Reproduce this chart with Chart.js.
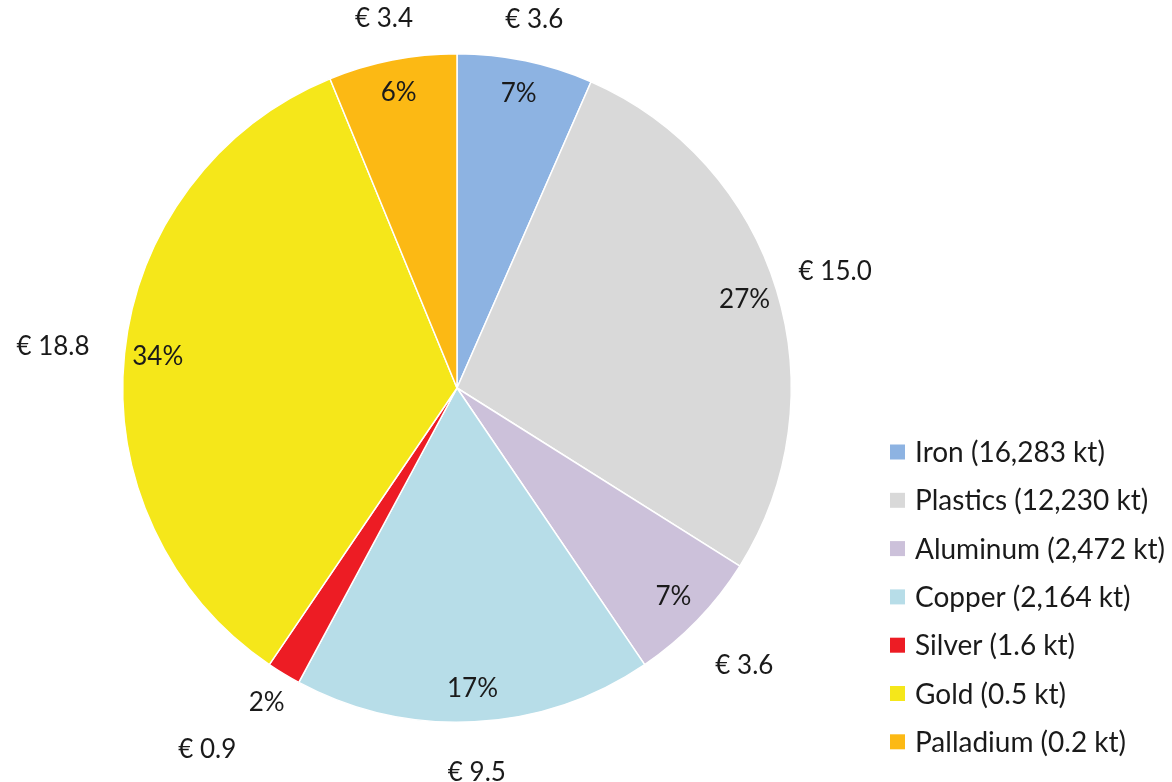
<!DOCTYPE html>
<html>
<head>
<meta charset="utf-8">
<script src="https://cdn.jsdelivr.net/npm/chart.js@4.4.1/dist/chart.umd.min.js"></script>
<style>
  html, body { margin: 0; padding: 0; background: #fff; }
  #wrap { width: 1172px; height: 782px; }
</style>
</head>
<body>
<div id="wrap"><canvas id="pieChart" width="1172" height="782"></canvas></div>
<script>
// materials and their value (billion €)
const materials = ['Iron (16,283 kt)', 'Plastics (12,230 kt)', 'Aluminum (2,472 kt)', 'Copper (2,164 kt)', 'Silver (1.6 kt)', 'Gold (0.5 kt)', 'Palladium (0.2 kt)'];
const values = [3.6, 15.0, 3.6, 9.5, 0.9, 18.8, 3.4];
const colors = ['#8db3e2', '#d9d9d9', '#ccc1da', '#b7dde8', '#ed1c24', '#f5e71a', '#fcb914'];

const FONT = '26px Lato, "Open Sans", sans-serif';
const LEGEND_FONT = '28px Lato, "Open Sans", sans-serif';
const TEXT = '#1a1a1a';

const total = values.reduce((acc, val) => acc + val, 0);

// draws the % inside, the € outside, and the legend on the right
const labelPlugin = {
  id: 'pieLabels',
  afterDraw(chart) {
    const ctx = chart.ctx;
    const arcs = chart.getDatasetMeta(0).data;
    ctx.save();
    ctx.font = FONT;
    ctx.fillStyle = TEXT;
    ctx.textAlign = 'center';
    ctx.textBaseline = 'middle';

    arcs.forEach((arc, i) => {
      const { x, y, startAngle, endAngle, outerRadius } = arc.getProps(['x', 'y', 'startAngle', 'endAngle', 'outerRadius'], true);
      const mid = (startAngle + endAngle) / 2;
      const ux = Math.cos(mid), uy = Math.sin(mid);
      const pct = Math.round(values[i] / total * 100) + '%';
      const euro = '€ ' + values[i].toFixed(1);
      const small = (endAngle - startAngle) < 0.2;

      let pr = outerRadius * 0.9;
      if (small) pr = outerRadius + 33;
      ctx.fillText(pct, x + ux * pr, y + uy * pr);

      const w = ctx.measureText(euro).width;
      const h = 30;
      // labels below / left of the centre sit a bit further out
      const gap = (uy > 0.3 || ux < -0.9) ? 34 : 22;
      let er = outerRadius + gap + Math.abs(ux) * w / 2 + Math.abs(uy) * h / 2;
      if (small) er = pr + 72;
      const ea = small ? mid + 0.06 : mid;
      ctx.fillText(euro, x + Math.cos(ea) * er, y + Math.sin(ea) * er);
    });

    // legend
    ctx.font = LEGEND_FONT;
    ctx.textAlign = 'left';
    const lx = 890, ly = 452, step = 48.3, box = 15;
    materials.forEach((m, i) => {
      const cy = ly + i * step;
      ctx.fillStyle = colors[i];
      ctx.fillRect(lx, cy - box / 2, box, box);
      ctx.fillStyle = TEXT;
      ctx.fillText(m, lx + 25, cy + 1);
    });
    ctx.restore();
  }
};

const pieData = {
  labels: materials,
  datasets: [{
    data: values,
    backgroundColor: colors,
    borderColor: '#ffffff',
    borderWidth: 1.5
  }]
};

const pieConfig = {
  type: 'pie',
  data: pieData,
  options: {
    responsive: false,
    animation: false,
    layout: { padding: { top: 53, bottom: 59, left: 122, right: 380 } },
    plugins: {
      legend: { display: false },
      tooltip: { enabled: false }
    }
  },
  plugins: [labelPlugin]
};

const pieCtx = document.getElementById('pieChart').getContext('2d');
const pieChart = new Chart(pieCtx, pieConfig);
</script>
</body>
</html>
